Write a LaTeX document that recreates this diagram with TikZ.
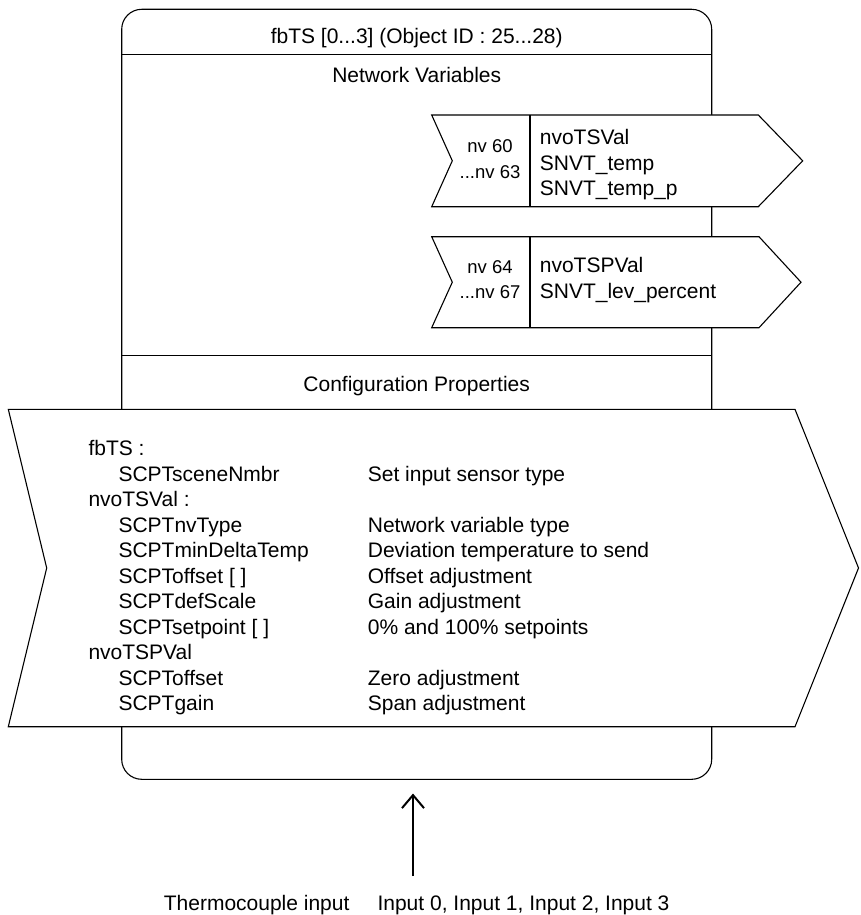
\documentclass[tikz,border=0pt]{standalone}
\usepackage{fontspec}
\setmainfont{Liberation Sans}
\usetikzlibrary{arrows.meta}
\begin{document}
\begin{tikzpicture}[x=1pt,y=-1pt, line width=1.1pt, line join=miter,
  every node/.style={inner sep=0pt, font=\fontsize{21}{25.5}\selectfont},
  lbl/.style={anchor=base},
  lblw/.style={anchor=base west},
  smalltxt/.style={anchor=base, font=\fontsize{18.5}{25}\selectfont},
  shapeline/.style={draw=black, fill=white, line width=1.1pt},
  flow/.style={-{Straight Barb[length=13pt,width=22pt]}, line width=2pt}]
\useasboundingbox (0,0) rectangle (861,915);

% outer function block
\node[shapeline, rounded corners=20pt, minimum width=590pt, minimum height=770pt] (fb) at (416.7,394.3) {};
\draw (121.7,54.3) -- (711.7,54.3);
\draw (121.7,355.5) -- (711.7,355.5);
\node[lbl] (title) at (416.7,43.5) {fbTS [0...3] (Object ID : 25...28)};
\node[lbl] (nvhead) at (416.7,82.5) {Network Variables};
\node[lbl] (cphead) at (416.7,391) {Configuration Properties};

% network variable 1
\draw[shapeline] (431.7,115) -- (758.3,115) -- (802.7,160.8) -- (758.3,206.7) -- (431.7,206.7) -- (452.3,160.8) -- cycle;
\draw (530,115) -- (530,206.7);
\node[smalltxt] (nva1) at (490,153) {nv 60};
\node[smalltxt] (nva2) at (490,178) {...nv 63};
\node[lblw] (nvb1) at (539.3,145) {nvoTSVal};
\node[lblw] (nvb2) at (539.3,170) {SNVT\_temp};
\node[lblw] (nvb3) at (539.3,195) {SNVT\_temp\_p};

% network variable 2
\draw[shapeline] (431.7,236.7) -- (759,236.7) -- (801,282.2) -- (759,327.7) -- (431.7,327.7) -- (452.3,282.2) -- cycle;
\draw (530,236.7) -- (530,327.7);
\node[smalltxt] (nvc1) at (490,273) {nv 64};
\node[smalltxt] (nvc2) at (490,298) {...nv 67};
\node[lblw] (nvd1) at (539.3,272.5) {nvoTSPVal};
\node[lblw] (nvd2) at (539.3,298) {SNVT\_lev\_percent};

% configuration properties
\draw[shapeline] (8.3,409.3) -- (795,409.3) -- (858.5,568) -- (795,726.7) -- (8.3,726.7) -- (46.7,568) -- cycle;
\node[lblw] (r0) at (88,455.5) {fbTS :};
\node[lblw] (r1) at (118,481) {SCPTsceneNmbr};
\node[lblw] (r2) at (88,506.5) {nvoTSVal :};
\node[lblw] (r3) at (118,532) {SCPTnvType};
\node[lblw] (r4) at (118,557.5) {SCPTminDeltaTemp};
\node[lblw] (r5) at (118,583) {SCPToffset [ ]};
\node[lblw] (r6) at (118,608.5) {SCPTdefScale};
\node[lblw] (r7) at (118,634) {SCPTsetpoint [ ]};
\node[lblw] (r8) at (88,659.5) {nvoTSPVal};
\node[lblw] (r9) at (118,685) {SCPToffset};
\node[lblw] (r10) at (118,710.5) {SCPTgain};
\node[lblw] (d1) at (367.3,481) {Set input sensor type};
\node[lblw] (d3) at (367.3,532) {Network variable type};
\node[lblw] (d4) at (367.3,557.5) {Deviation temperature to send};
\node[lblw] (d5) at (367.3,583) {Offset adjustment};
\node[lblw] (d6) at (367.3,608.5) {Gain adjustment};
\node[lblw] (d7) at (367.3,634) {0\% and 100\% setpoints};
\node[lblw] (d9) at (367.3,685) {Zero adjustment};
\node[lblw] (d10) at (367.3,710.5) {Span adjustment};

% input
\coordinate (src) at (413,876);
\draw[flow, shorten >=13.7pt] (src) -- (src |- fb.south);
\node[lblw] (in1) at (163.3,910.5) {Thermocouple input};
\node[lblw] (in2) at (377,910.5) {Input 0, Input 1, Input 2, Input 3};
\end{tikzpicture}
\end{document}
